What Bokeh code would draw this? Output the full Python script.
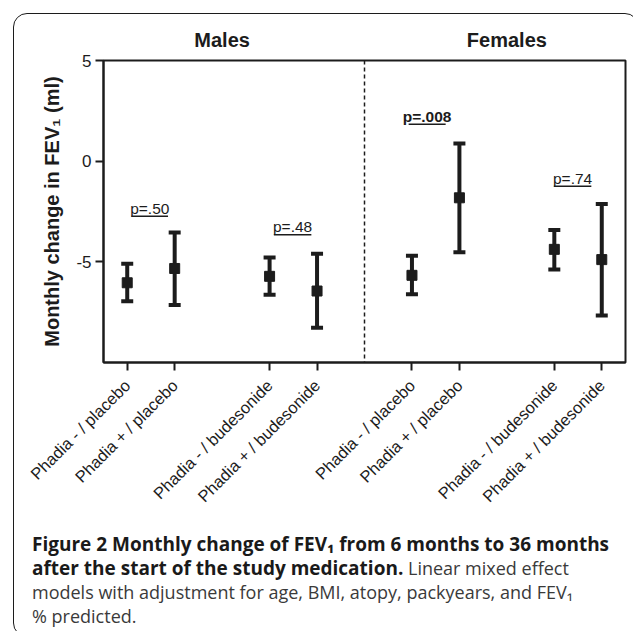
import math
from bokeh.plotting import figure
from bokeh.layouts import column
from bokeh.models import (Span, FixedTicker, ColumnDataSource, Whisker, TeeHead,
                          LinearAxis, Div)
from bokeh.embed import file_html
from bokeh.resources import INLINE
from bokeh.core.properties import value

# ---------------- data ----------------
categories = ["Phadia - / placebo", "Phadia + / placebo",
              "Phadia - / budesonide", "Phadia + / budesonide",
              "Phadia - / placebo", "Phadia + / placebo",
              "Phadia - / budesonide", "Phadia + / budesonide"]
xpos = [1, 2, 4, 5, 7, 8, 10, 11]
means = [-6.04, -5.33, -5.72, -6.45, -5.67, -1.82, -4.38, -4.89]
upper = [-5.10, -3.54, -4.79, -4.60, -4.70, 0.88, -3.42, -2.13]
lower = [-6.96, -7.15, -6.64, -8.28, -6.61, -4.52, -5.38, -7.66]

p_texts = ["p=.50", "p=.48", "p=.008", "p=.74"]
p_x0 = [1.09, 4.09, 6.93, 9.99]
p_x1 = [1.86, 4.88, 7.71, 10.78]
p_y = [-2.74, -3.66, 1.83, -1.24]
p_bold = [False, False, True, False]

panel_titles = ["Males", "Females"]
panel_centers = [3, 9]
divider_x = 6
y_ticks = [-5, 0, 5]
y_tick_labels = ["-5", "0", "5"]

caption_lines = [
    '<b>Figure 2 Monthly change of FEV\u2081 from 6 months to 36 months</b>',
    '<b>after the start of the study medication.</b> Linear mixed effect',
    'models with adjustment for age, BMI, atopy, packyears, and FEV\u2081',
    '% predicted.',
]

INK = "#1c1c1c"
AX_FONT = "Liberation Sans"
CAP_FONT = "Open Sans"

# ---------------- figure ----------------
p = figure(width=614, height=500, x_range=(0.5, 11.5), y_range=(-10, 5),
           output_backend="svg", toolbar_location=None, title=None,
           min_border_left=89, min_border_right=3, min_border_top=46,
           min_border_bottom=140)
p.background_fill_color = "white"
p.border_fill_color = None
p.outline_line_color = INK
p.outline_line_width = 2
p.xgrid.visible = False
p.ygrid.visible = False

for ax in (p.xaxis[0], p.yaxis[0]):
    ax.axis_line_width = 2
    ax.axis_line_color = INK
    ax.major_tick_line_width = 2
    ax.major_tick_line_color = INK
    ax.major_tick_out = 8
    ax.major_tick_in = 0
    ax.minor_tick_line_color = None
    ax.major_label_text_font = AX_FONT
    ax.major_label_text_color = INK

p.yaxis.ticker = FixedTicker(ticks=y_ticks)
p.yaxis.major_label_overrides = {t: s for t, s in zip(y_ticks, y_tick_labels)}
p.yaxis.major_label_text_font_size = "17px"
p.yaxis.major_label_standoff = 4
p.yaxis.axis_label = "Monthly change in FEV\u2081 (ml)"
p.yaxis.axis_label_text_font = AX_FONT
p.yaxis.axis_label_text_font_style = "bold"
p.yaxis.axis_label_text_font_size = "20px"
p.yaxis.axis_label_text_color = INK
p.yaxis.axis_label_standoff = 10

p.xaxis.ticker = FixedTicker(ticks=xpos)
p.xaxis.major_label_overrides = {x: c for x, c in zip(xpos, categories)}
p.xaxis.major_label_orientation = math.pi / 4
p.xaxis.major_label_text_font_size = "16.5px"
p.xaxis.major_label_standoff = 12

# panel titles as a label-only axis above the frame
top_axis = LinearAxis(ticker=FixedTicker(ticks=panel_centers),
                      major_label_overrides={c: t for c, t in zip(panel_centers, panel_titles)},
                      axis_line_color=None, major_tick_line_color=None,
                      minor_tick_line_color=None, major_label_standoff=4,
                      major_label_text_font=AX_FONT, major_label_text_font_style="bold",
                      major_label_text_font_size="20px", major_label_text_color=INK)
p.add_layout(top_axis, "above")

# divider
p.add_layout(Span(location=divider_x, dimension="height", line_color=INK,
                  line_width=1.5, line_dash="4 3"))

# error bars
src = ColumnDataSource(dict(x=xpos, m=means, up=upper, lo=lower))
p.add_layout(Whisker(source=src, base="x", upper="up", lower="lo",
                     line_color=INK, line_width=4,
                     upper_head=TeeHead(size=12, line_width=4, line_color=INK),
                     lower_head=TeeHead(size=12, line_width=4, line_color=INK)))
p.scatter("x", "m", source=src, marker="square", size=10, color=INK)

# significance brackets
p.segment(x0=p_x0, y0=p_y, x1=p_x1, y1=p_y, line_width=1.5, line_color=INK)
for t, a, b, y, bold in zip(p_texts, p_x0, p_x1, p_y, p_bold):
    p.text(x=[(a + b) / 2], y=[y + 0.4], text=[t], text_align="center",
           text_baseline="alphabetic", text_font=value(AX_FONT),
           text_font_size="15.5px", text_color=INK,
           text_font_style="bold" if bold else "normal")

# caption
cap = Div(width=614, height=112, text=(
    '<style>.cap{font-family:"%s",sans-serif;font-size:18px;line-height:24px;'
    'color:#3a3a3a;padding:13px 0 0 13px;white-space:nowrap;}'
    '.cap b{color:#1a1a1a;font-weight:700;font-size:19px;line-height:24px;}</style>'
    '<div class="cap">%s</div>' % (CAP_FONT, "<br>".join(caption_lines))))

layout = column(p, cap, margin=(13, 0, 0, 13),
                styles={"border": "1.5px solid #1c1c1c", "border-radius": "14px",
                        "background": "white"})

open("out.html", "w").write(file_html(layout, INLINE))
